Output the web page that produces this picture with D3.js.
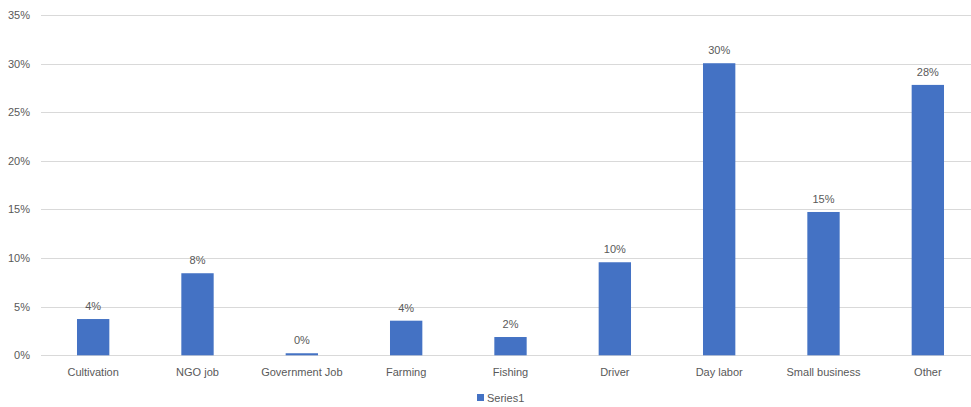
<!DOCTYPE html>
<html>
<head>
<meta charset="utf-8">
<script src="https://cdn.jsdelivr.net/npm/d3@7/dist/d3.min.js"></script>
<style>
  html, body { margin: 0; padding: 0; background: #fff; }
  svg { display: block; font-family: "Liberation Sans", Arial, sans-serif; }
</style>
</head>
<body>
<svg id="chart" width="971" height="407"></svg>
<script>
// Occupation categories and share of respondents
const categories = ["Cultivation", "NGO job", "Government Job", "Farming", "Fishing",
                    "Driver", "Day labor", "Small business", "Other"];
const series1 = [0.0373, 0.0844, 0.0021, 0.0356, 0.0188, 0.0957, 0.3004, 0.1474, 0.2781];
const yTicks = [0, 0.05, 0.10, 0.15, 0.20, 0.25, 0.30, 0.35];
const seriesName = "Series1";

const svg = d3.select("#chart");
const W = 971, H = 407;
const margin = { left: 41, top: 15, bottom: 52 };
const plotRight = 980;      // plot area extends slightly past the visible edge
const textColor = "#595959";
const barColor = "#4472c4";

const x = d3.scaleBand()
  .domain(categories)
  .range([margin.left, plotRight])
  .padding(0);

const y = d3.scaleLinear()
  .domain([0, 0.35])
  .range([355.3, margin.top]);

const barW = x.bandwidth() * 0.31;
const pct = d3.format(".0%");

// Horizontal gridlines
svg.append("g")
  .selectAll("line")
  .data(yTicks)
  .join("line")
  .attr("x1", margin.left)
  .attr("x2", W)
  .attr("y1", d => Math.round(y(d)) + 0.5)
  .attr("y2", d => Math.round(y(d)) + 0.5)
  .attr("stroke", "#d9d9d9")
  .attr("stroke-width", 1);

// Y axis labels
const yAxis = d3.axisLeft(y).tickValues(yTicks).tickFormat(pct).tickSize(0).tickPadding(0);
svg.append("g")
  .attr("transform", "translate(30,0)")
  .call(yAxis)
  .call(g => g.select(".domain").remove())
  .call(g => g.selectAll("text")
    .attr("fill", textColor)
    .attr("font-size", "11px")
    .attr("font-family", "Liberation Sans, Arial, sans-serif"));

// Bars
svg.append("g")
  .selectAll("rect")
  .data(series1)
  .join("rect")
  .attr("x", (d, i) => x(categories[i]) + (x.bandwidth() - barW) / 2)
  .attr("width", barW)
  .attr("y", d => y(d))
  .attr("height", d => y(0) - y(d))
  .attr("fill", barColor);

// Value labels
svg.append("g")
  .selectAll("text")
  .data(series1)
  .join("text")
  .attr("x", (d, i) => x(categories[i]) + x.bandwidth() / 2)
  .attr("y", d => y(d) - 9)
  .attr("text-anchor", "middle")
  .attr("fill", textColor)
  .attr("font-size", "11px")
  .text(d => pct(d));

// Category axis
const xAxis = d3.axisBottom(x).tickSize(0).tickPadding(0);
svg.append("g")
  .attr("transform", `translate(0,${y(0)})`)
  .call(xAxis)
  .call(g => g.select(".domain").remove())
  .call(g => g.selectAll("text")
    .attr("dy", "1.05em")
    .attr("y", 9)
    .attr("fill", textColor)
    .attr("font-size", "11px")
    .attr("font-family", "Liberation Sans, Arial, sans-serif"));

// Legend
const legend = svg.append("g").attr("transform", "translate(477,394)");
legend.append("rect").attr("width", 7).attr("height", 7).attr("fill", barColor);
legend.append("text")
  .attr("x", 10).attr("y", 7.5)
  .attr("fill", textColor)
  .attr("font-size", "11px")
  .text(seriesName);
</script>
</body>
</html>
